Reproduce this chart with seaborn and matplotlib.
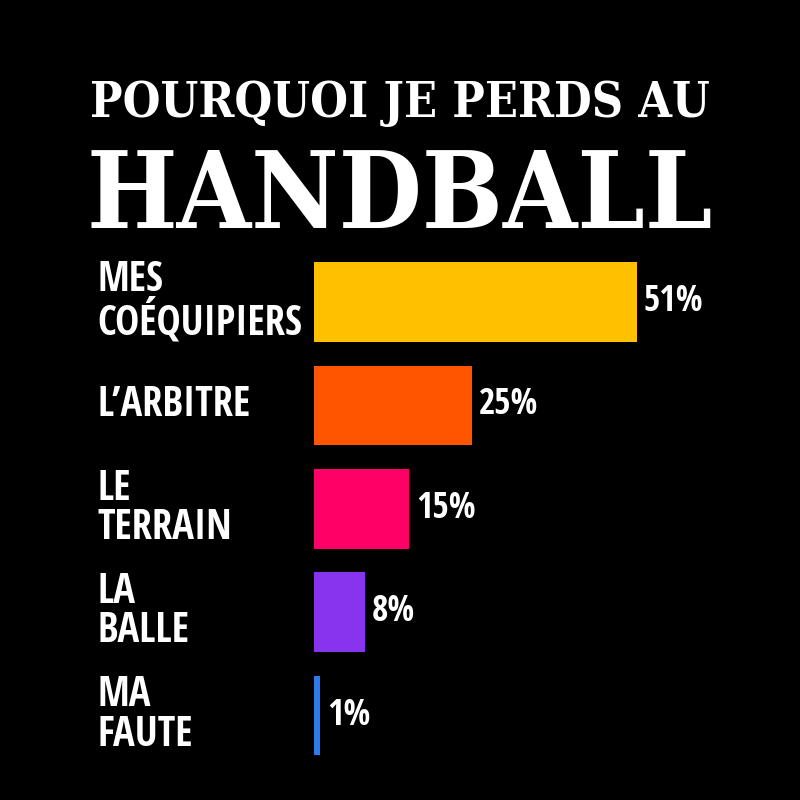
import matplotlib
matplotlib.use("Agg")
import matplotlib.pyplot as plt
import matplotlib.transforms as mtransforms
from matplotlib import font_manager as fm
from matplotlib.textpath import TextPath
from matplotlib.ft2font import FT2Font
import seaborn as sns
import pandas as pd

categories = ["MES\nCOÉQUIPIERS", "L’ARBITRE", "LE\nTERRAIN", "LA\nBALLE", "MA\nFAUTE"]
values = [51, 25, 15, 8, 1]
value_labels = ["51%", "25%", "15%", "8%", "1%"]
colors = ["#FFC000", "#FF5500", "#FF0066", "#8833EE", "#2E7BF0"]
title_line1 = "POURQUOI JE PERDS AU"
title_line2 = "HANDBALL"

sns.set_theme(style="dark")
plt.rcParams["font.family"] = ["DejaVu Sans"]

needed = set("".join(categories + value_labels + [title_line1, title_line2]).replace("\n", ""))
SANS = ("dejavu sans", "liberation sans", "noto sans", "roboto", "open sans", "lato", "inter")
SERIF = ("dejavu serif", "liberation serif", "noto serif")


def ratio(fp, sample):
    w = TextPath((0, 0), sample, prop=fp, size=40).get_extents().width
    h = TextPath((0, 0), "H", prop=fp, size=40).get_extents().height
    return w / h


def pick(families, sample, default):
    best, bestr = None, None
    for f in fm.fontManager.ttflist:
        name = f.name.lower()
        if not name.startswith(families) or "cjk" in name or "mono" in name:
            continue
        if f.style != "normal":
            continue
        try:
            wt = int(f.weight)
        except (TypeError, ValueError):
            wt = 700 if str(f.weight).lower() in ("bold", "heavy", "black", "extra bold") else 400
        if wt < 650:
            continue
        try:
            cmap = FT2Font(f.fname).get_charmap()
            if not all(ord(ch) in cmap for ch in needed if ch != " "):
                continue
            fp = fm.FontProperties(fname=f.fname)
            rr = ratio(fp, sample)
        except Exception:
            continue
        if bestr is None or rr < bestr:
            best, bestr = fp, rr
    return best or default


label_fp = pick(SANS, "COÉQUIPIERS", fm.FontProperties(family="DejaVu Sans", weight="bold"))
title_fp = pick(SERIF, "HANDBALL", fm.FontProperties(family="DejaVu Serif", weight="bold"))


def cap_px(fp, size_pt):
    return TextPath((0, 0), "H", prop=fp, size=size_pt * 100 / 72).get_extents().height


def width_px(fp, s, size_pt):
    return TextPath((0, 0), s, prop=fp, size=size_pt * 100 / 72).get_extents().width


def fit(fp, s, cap_target, width_max):
    size = cap_target / cap_px(fp, 10) * 10
    w = width_px(fp, s, size)
    if w > width_max:
        size *= width_max / w
    return size


df = pd.DataFrame({"cat": categories, "val": values})

fig = plt.figure(figsize=(8, 8), dpi=100, facecolor="black")
ax = fig.add_axes([314 / 800, 1 - 767.2 / 800, 323 / 800, 516.9 / 800])
ax.set_facecolor("black")
sns.barplot(data=df, x="val", y="cat", hue="cat", palette=colors, legend=False,
            width=0.77, orient="h", ax=ax, saturation=1, edgecolor="none")
ax.set_xlim(0, 51)
ax.set_ylim(4.5, -0.5)
ax.set_xticks([])
ax.set_yticks([])
ax.set_xlabel("")
ax.set_ylabel("")
for s in ax.spines.values():
    s.set_visible(False)

cat_fs = fit(label_fp, "COÉQUIPIERS", 29, 212)
val_fs = fit(label_fp, "51%", 28, 57)
ls = 45 / (cat_fs * 100 / 72 * 1.17)

trans = mtransforms.blended_transform_factory(fig.transFigure, ax.transData)
for i, (c, v, vl) in enumerate(zip(categories, values, value_labels)):
    t = ax.text(97 / 800, i, c, transform=trans, ha="left", va="center",
                color="white", fontproperties=label_fp, linespacing=ls)
    t.set_fontsize(cat_fs)
    a = ax.annotate(vl, xy=(v, i), xytext=(5, 0), textcoords="offset points",
                    ha="left", va="center", annotation_clip=False, color="white",
                    fontproperties=label_fp)
    a.set_fontsize(val_fs)

t1 = fig.text(0.5, 1 - 117 / 800, title_line1, ha="center", va="baseline",
              color="white", fontproperties=title_fp)
t1.set_fontsize(fit(title_fp, title_line1, 49, 616))
t2 = fig.text(0.5, 1 - 228 / 800, title_line2, ha="center", va="baseline",
              color="white", fontproperties=title_fp)
t2.set_fontsize(fit(title_fp, title_line2, 90, 620))

fig.savefig("out.png", dpi=100, facecolor="black")
